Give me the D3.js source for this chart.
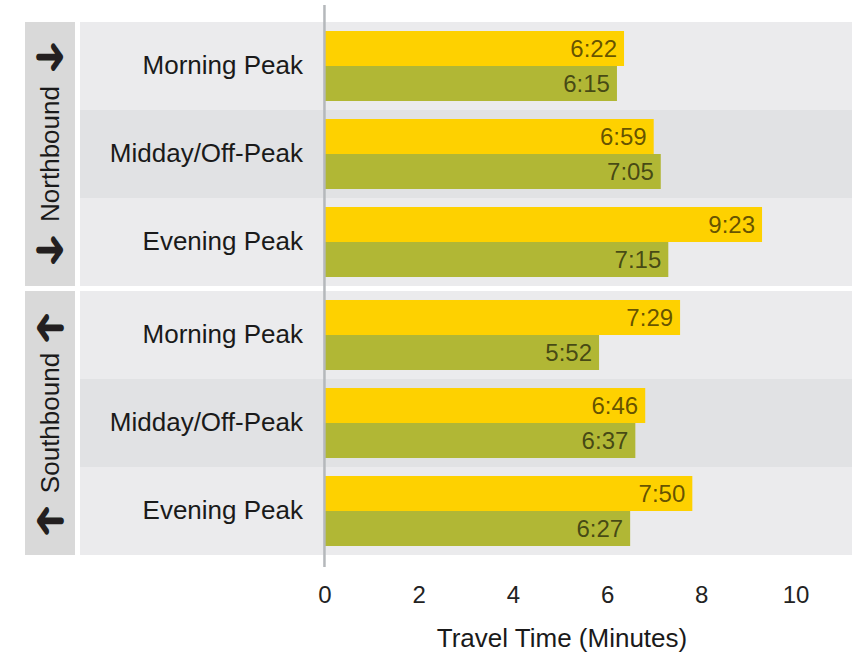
<!DOCTYPE html>
<html>
<head>
<meta charset="utf-8">
<script src="https://cdn.jsdelivr.net/npm/d3@7"></script>
<style>
  body { margin: 0; background: #fff; }
  text { font-family: 'Liberation Sans', Arial, sans-serif; }
</style>
</head>
<body>
<div id="chart"></div>
<script>
// data, ordered direction by direction, period by period
let directions = ['Northbound', 'Southbound']
let arrowTurn = [0, 180]
let periods = ['Morning Peak', 'Midday/Off-Peak', 'Evening Peak']
let yellowValues = [6.36, 6.99, 9.29, 7.55, 6.81, 7.81]
let yellowLabels = ['6:22', '6:59', '9:23', '7:29', '6:46', '7:50']
let greenValues = [6.21, 7.14, 7.30, 5.83, 6.60, 6.49]
let greenLabels = ['6:15', '7:05', '7:15', '5:52', '6:37', '6:27']
let xTicks = [0, 2, 4, 6, 8, 10]

let width = 867
let height = 656

let svg = d3
  .select('#chart')
  .append('svg')
  .attr('width', width)
  .attr('height', height)

let x = d3.scaleLinear().domain([-5.19, 11.2]).range([80, 852])

let facetScale = d3
  .scaleBand()
  .domain(directions)
  .range([22, 555])
  .paddingInner(5 / 269)

let rowScale = d3
  .scaleBand()
  .domain(periods)
  .range([0, facetScale.bandwidth()])

let seriesScale = d3
  .scaleBand()
  .domain(['yellow', 'green'])
  .range([0, rowScale.bandwidth()])
  .paddingOuter(0.257)

let colors = { yellow: '#fed100', green: '#b1b735' }

let rows = []
directions.forEach((dir, di) => {
  periods.forEach((p, pi) => {
    let i = di * periods.length + pi
    rows.push({
      dir: dir,
      period: p,
      index: pi,
      bars: [
        { key: 'yellow', value: yellowValues[i], label: yellowLabels[i] },
        { key: 'green', value: greenValues[i], label: greenLabels[i] }
      ]
    })
  })
})

// strips
svg
  .selectAll('.strip')
  .data(directions)
  .enter()
  .append('g')
  .attr('class', 'strip')
  .attr('transform', d => `translate(25,${facetScale(d)})`)
  .each(function(d, i) {
    let g = d3.select(this)
    let h = facetScale.bandwidth()
    g.append('rect')
      .attr('width', 50)
      .attr('height', h)
      .attr('fill', '#d9d9d9')

    g.append('text')
      .text(d)
      .attr('transform', `translate(25,${h / 2}) rotate(-90)`)
      .attr('text-anchor', 'middle')
      .attr('dy', '0.35em')
      .attr('font-size', 26)
      .attr('fill', '#1a1a1a')

    ;[-96, 97].forEach(off => {
      g.append('text')
        .text('\u279C')
        .attr(
          'transform',
          `translate(25,${h / 2 + off}) rotate(${arrowTurn[i]}) scale(0.95,1.35)`
        )
        .attr('text-anchor', 'middle')
        .attr('y', 12)
        .attr('font-family', "'DejaVu Sans', sans-serif")
        .attr('font-size', 40)
        .attr('fill', '#231f20')
    })
  })

// panel rows
let rowG = svg
  .selectAll('.row')
  .data(rows)
  .enter()
  .append('g')
  .attr('class', 'row')
  .attr('transform', d => `translate(0,${facetScale(d.dir) + rowScale(d.period)})`)

rowG
  .append('rect')
  .attr('x', x.range()[0])
  .attr('width', x.range()[1] - x.range()[0])
  .attr('height', rowScale.bandwidth())
  .attr('fill', d => (d.index === 1 ? '#e1e2e4' : '#ebebed'))

rowG
  .append('text')
  .text(d => d.period)
  .attr('x', 303)
  .attr('y', rowScale.bandwidth() / 2 - 1)
  .attr('dy', '0.35em')
  .attr('text-anchor', 'end')
  .attr('font-size', 26)
  .attr('fill', '#1a1a1a')

let barG = rowG
  .selectAll('.bar')
  .data(d => d.bars)
  .enter()
  .append('g')
  .attr('class', 'bar')

barG
  .append('rect')
  .attr('x', x(0))
  .attr('y', d => seriesScale(d.key))
  .attr('width', d => x(d.value) - x(0))
  .attr('height', seriesScale.bandwidth())
  .attr('fill', d => colors[d.key])

barG
  .append('text')
  .text(d => d.label)
  .attr('x', d => x(d.value) - 7)
  .attr('y', d => seriesScale(d.key) + seriesScale.bandwidth() / 2)
  .attr('dy', '0.35em')
  .attr('text-anchor', 'end')
  .attr('font-size', 24)
  .attr('fill', '#000')
  .attr('fill-opacity', 0.62)

// zero line
svg
  .append('line')
  .attr('x1', x(0))
  .attr('x2', x(0))
  .attr('y1', 5)
  .attr('y2', 567)
  .attr('stroke', '#b5b8bb')
  .attr('stroke-width', 2.5)

// x axis
let xAxis = svg
  .append('g')
  .attr('transform', 'translate(0,585)')
  .call(d3.axisBottom(x).tickValues(xTicks).tickSize(0).tickPadding(0))

xAxis.select('.domain').remove()
xAxis
  .selectAll('text')
  .attr('font-family', "'Liberation Sans', Arial, sans-serif")
  .attr('font-size', 24)
  .attr('fill', '#222')
  .attr('dy', '0.75em')

svg
  .append('text')
  .text('Travel Time (Minutes)')
  .attr('x', 562)
  .attr('y', 647)
  .attr('text-anchor', 'middle')
  .attr('font-size', 26)
  .attr('fill', '#1a1a1a')
</script>
</body>
</html>
